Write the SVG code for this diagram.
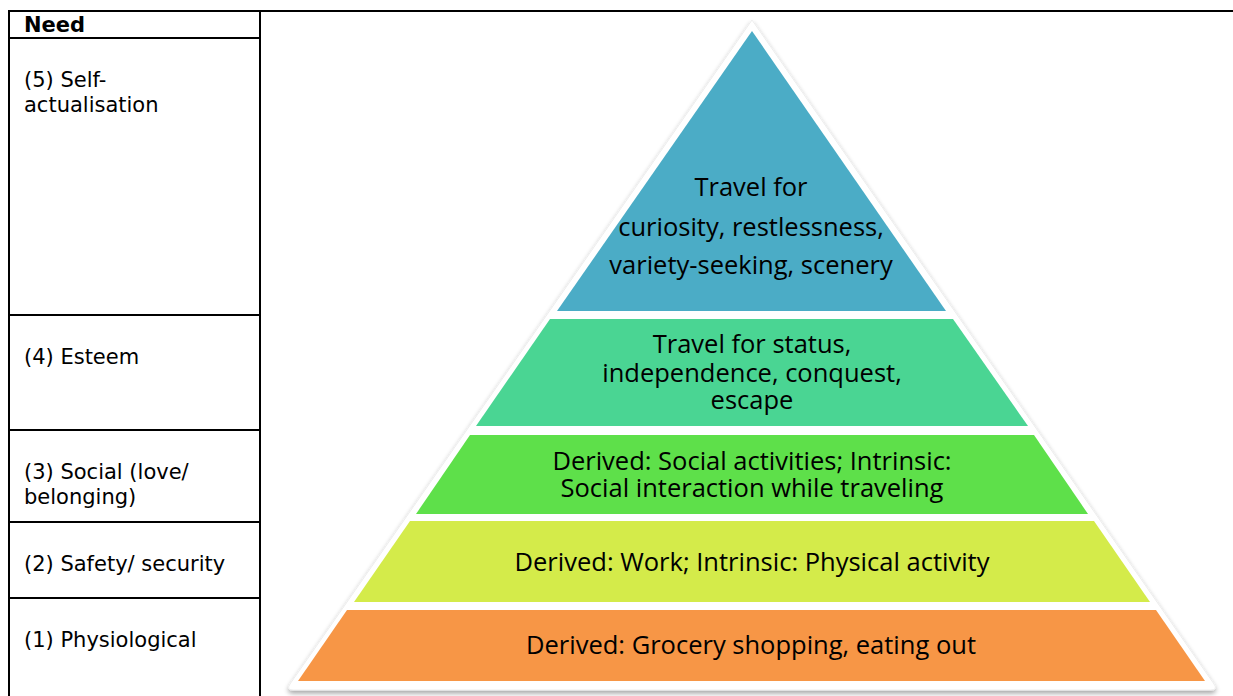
<svg xmlns="http://www.w3.org/2000/svg" width="1233" height="696" viewBox="0 0 1233 696">
  <defs>
    <filter id="shadow" x="-10%" y="-10%" width="120%" height="120%">
      <feGaussianBlur in="SourceAlpha" stdDeviation="2.5"/>
      <feOffset dx="0" dy="3" result="b"/>
      <feComponentTransfer><feFuncA type="linear" slope="0.35"/></feComponentTransfer>
      <feMerge><feMergeNode/><feMergeNode in="SourceGraphic"/></feMerge>
    </filter>
    <style>
      .grid { stroke: #000; stroke-width: 2; fill: none; }
      .need { font-family: "DejaVu Sans", Verdana, sans-serif; font-size: 21px; fill: #000; }
      .head { font-weight: bold; }
      .lvl { font-family: "Open Sans", "Noto Sans", sans-serif; font-size: 25.5px; fill: #000; text-anchor: middle; }
    </style>
  </defs>
  <rect width="1233" height="696" fill="#fff"/>

  <!-- table of needs -->
  <g id="table">
    <path class="grid" d="M8 11 H1233 M9 11 V696 M260 11 V696 M9 38 H260 M9 315 H260 M9 430 H260 M9 522 H260 M9 598 H260"/>
    <text class="need head" x="24" y="32">Need</text>
    <text class="need" x="24" y="87">(5) Self-</text>
    <text class="need" x="24" y="112">actualisation</text>
    <text class="need" x="24" y="364">(4) Esteem</text>
    <text class="need" x="24" y="479">(3) Social (love/</text>
    <text class="need" x="24" y="504">belonging)</text>
    <text class="need" x="24" y="571">(2) Safety/ security</text>
    <text class="need" x="24" y="647">(1) Physiological</text>
  </g>

  <!-- white pyramid backing -->
  <g id="pyramid-base" filter="url(#shadow)">
    <path d="M752 20 L1214 684 Q1218 690 1211 690 L293 690 Q286 690 290 684 Z" fill="#fff" stroke="#eeeeee" stroke-width="1" stroke-linejoin="round"/>
  </g>

  <g id="level5">
    <polygon points="752,31 946,311 557,311" fill="#4BACC6"/>
    <text class="lvl" x="751" y="196">Travel for</text>
    <text class="lvl" x="751" y="236">curiosity, restlessness,</text>
    <text class="lvl" x="751" y="274">variety-seeking, scenery</text>
  </g>
  <g id="level4">
    <polygon points="550,319 953,319 1028,426 476,426" fill="#4AD593"/>
    <text class="lvl" x="752" y="353">Travel for status,</text>
    <text class="lvl" x="752" y="382">independence, conquest,</text>
    <text class="lvl" x="752" y="409">escape</text>
  </g>
  <g id="level3">
    <polygon points="470,435 1034,435 1088,514 416,514" fill="#5EE04A"/>
    <text class="lvl" x="752" y="470">Derived: Social activities; Intrinsic:</text>
    <text class="lvl" x="752" y="497">Social interaction while traveling</text>
  </g>
  <g id="level2">
    <polygon points="410,521 1094,521 1150,602 354,602" fill="#D4EB4A"/>
    <text class="lvl" x="752" y="571">Derived: Work; Intrinsic: Physical activity</text>
  </g>
  <g id="level1">
    <polygon points="347,610 1156,610 1205,681 298,681" fill="#F79646"/>
    <text class="lvl" x="751" y="654">Derived: Grocery shopping, eating out</text>
  </g>
</svg>
